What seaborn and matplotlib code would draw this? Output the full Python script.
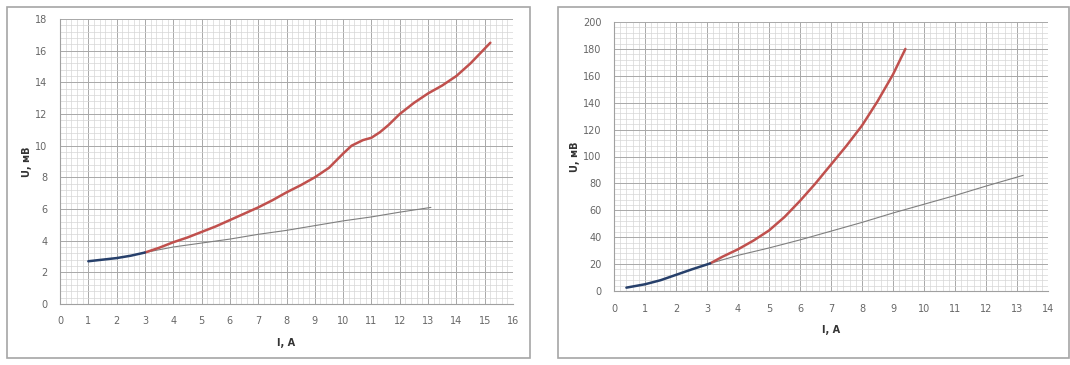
import matplotlib
matplotlib.use("Agg")
import matplotlib.pyplot as plt
from matplotlib.patches import Rectangle
from matplotlib.ticker import MultipleLocator
import pandas as pd
import seaborn as sns

# left chart
left_blue_i = [1.0, 1.5, 2.0, 2.5, 3.0]
left_blue_u = [2.7, 2.8, 2.9, 3.05, 3.25]
left_red_i = [3.0, 3.5, 4.0, 4.5, 5.0, 5.5, 6.0, 6.5, 7.0, 7.5, 8.0, 8.5, 9.0, 9.5,
              10.0, 10.3, 10.7, 11.0, 11.3, 11.6, 12.0, 12.5, 13.0, 13.5, 14.0, 14.5, 15.2]
left_red_u = [3.25, 3.55, 3.9, 4.2, 4.55, 4.9, 5.3, 5.7, 6.1, 6.55, 7.05, 7.5, 8.0, 8.6,
              9.5, 10.0, 10.35, 10.5, 10.85, 11.3, 12.0, 12.7, 13.3, 13.8, 14.4, 15.2, 16.5]
left_gray_i = [3.0, 4.0, 5.0, 6.0, 7.0, 8.0, 9.0, 10.0, 11.0, 12.0, 13.1]
left_gray_u = [3.25, 3.6, 3.85, 4.1, 4.4, 4.65, 4.95, 5.25, 5.5, 5.8, 6.1]

# right chart
right_blue_i = [0.4, 1.0, 1.5, 2.0, 2.5, 3.1]
right_blue_u = [2.5, 5.0, 8.0, 12.0, 16.0, 20.5]
right_red_i = [3.1, 3.5, 4.0, 4.5, 5.0, 5.5, 6.0, 6.5, 7.0, 7.5, 8.0, 8.5, 9.0, 9.4]
right_red_u = [20.5, 25.5, 31.0, 37.5, 45.0, 55.0, 67.0, 80.0, 94.0, 108.0, 123.0, 141.0, 161.0, 180.0]
right_gray_i = [3.1, 4.0, 5.0, 6.0, 7.0, 8.0, 9.0, 10.0, 11.0, 12.0, 13.2]
right_gray_u = [20.5, 26.5, 32.0, 38.0, 44.5, 51.0, 58.0, 64.5, 71.0, 78.0, 86.0]

RED = "#c0504d"
BLUE = "#27406b"
GRAY = "#7f7f7f"

sns.set_style("white")
plt.rcParams["font.family"] = ["DejaVu Sans"]

fig = plt.figure(figsize=(10.7, 3.65), dpi=100)

# panel frames
for x0, w in [(7 / 1070, 523 / 1070), (558 / 1070, 511 / 1070)]:
    fig.add_artist(Rectangle((x0, 7 / 365), w, 351 / 365, transform=fig.transFigure,
                             fill=False, edgecolor="#a6a6a6", linewidth=1.2))


def draw_panel(ax, series, xmax, ymax, xmaj, ymaj):
    for i, u, color, lw in series:
        df = pd.DataFrame({"I": i, "U": u})
        sns.lineplot(data=df, x="I", y="U", color=color, linewidth=lw, ax=ax,
                     sort=False, estimator=None)
    ax.set_xlim(0, xmax)
    ax.set_ylim(0, ymax)
    ax.xaxis.set_major_locator(MultipleLocator(xmaj))
    ax.yaxis.set_major_locator(MultipleLocator(ymaj))
    ax.xaxis.set_minor_locator(MultipleLocator(xmaj / 5))
    ax.yaxis.set_minor_locator(MultipleLocator(ymaj / 5))
    ax.grid(which="major", color="#a8a8a8", linewidth=0.7)
    ax.grid(which="minor", color="#d6d6d6", linewidth=0.5)
    ax.set_axisbelow(True)
    for side in ["top", "right"]:
        ax.spines[side].set_visible(False)
    for side in ["left", "bottom"]:
        ax.spines[side].set_color("#a0a0a0")
        ax.spines[side].set_linewidth(0.8)
    ax.tick_params(axis="both", which="major", labelsize=7, labelcolor="#666666",
                   length=3, color="#a0a0a0", pad=6)
    ax.tick_params(axis="both", which="minor", length=0)
    ax.set_xlabel("I, A", fontsize=7, fontweight="bold", color="#333333", labelpad=8)
    ax.set_ylabel("U, мВ", fontsize=7, fontweight="bold", color="#333333", labelpad=2)


ax1 = fig.add_axes([60 / 1070, 1 - 304 / 365, 453 / 1070, 285 / 365])
draw_panel(ax1, [(left_gray_i, left_gray_u, GRAY, 0.8),
                 (left_red_i, left_red_u, RED, 1.8),
                 (left_blue_i, left_blue_u, BLUE, 1.8)], 16, 18, 1, 2)

ax2 = fig.add_axes([614 / 1070, 1 - 291 / 365, 434 / 1070, 269 / 365])
draw_panel(ax2, [(right_gray_i, right_gray_u, GRAY, 0.8),
                 (right_red_i, right_red_u, RED, 1.8),
                 (right_blue_i, right_blue_u, BLUE, 1.8)], 14, 200, 1, 20)

fig.savefig("out.png", dpi=100)
